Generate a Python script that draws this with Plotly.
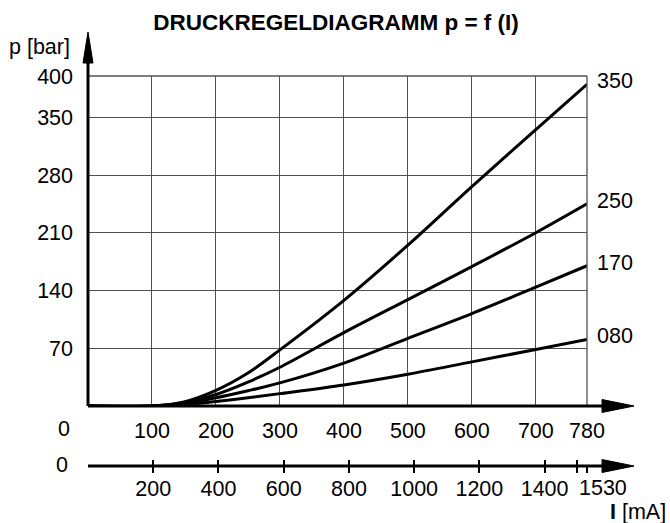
import plotly.graph_objects as go

# ---- data ----
current_ma = [0, 100, 150, 200, 250, 300, 400, 500, 600, 700, 780]
p_350 = [0, 0, 5, 19, 40, 68, 128, 195, 266, 335, 390]
p_250 = [0, 0, 4, 14, 29, 47, 89, 129, 169, 210, 245]
p_170 = [0, 0, 3, 10, 18.5, 28, 52, 82, 112, 144, 170]
p_080 = [0, 0, 1.5, 5.5, 10, 15, 25.5, 38.5, 53.5, 68.5, 80.7]
curve_labels = ["350", "250", "170", "080"]
series = [p_350, p_250, p_170, p_080]

y_ticks = [70, 140, 210, 280, 350, 400]
x_ticks = [100, 200, 300, 400, 500, 600, 700, 780]
x2_ticks = [200, 400, 600, 800, 1000, 1200, 1400, 1500, 1530]
x2_ticktext = ["200", "400", "600", "800", "1000", "1200", "1400", "", ""]

FONT = "Liberation Sans, Arial, sans-serif"
FS = 21.5
GRID = "#505050"

W, H = 670, 523
ML, MR, MT, MB = 88, 83, 76, 57
plot_h = H - MT - MB
pw = W - ML - MR
d = 60.0 / plot_h  # bottom of main y-domain (main x axis position)

fig = go.Figure()
for lab, vals in zip(curve_labels, series):
    fig.add_trace(go.Scatter(x=current_ma, y=vals, mode="lines", name=lab,
                             line=dict(color="black", width=3, shape="spline", smoothing=0.9),
                             showlegend=False, hoverinfo="skip"))
# anchor traces for the secondary scale
fig.add_trace(go.Scatter(x=[0], y=[None], xaxis="x2", yaxis="y", showlegend=False))
fig.add_trace(go.Scatter(x=[0], y=[None], xaxis="x3", yaxis="y", showlegend=False))

tf = dict(size=FS, family=FONT, color="black")
annotations = []
for lab, vals in zip(curve_labels, series):
    annotations.append(dict(x=current_ma[-1], y=vals[-1], xref="x", yref="y", text=lab,
                            showarrow=False, xanchor="left", yanchor="middle",
                            xshift=8, yshift=3, font=tf))
annotations += [
    dict(x=0, y=0, xref="x", yref="y", text="0", showarrow=False, xanchor="center",
         yanchor="middle", xshift=-24, yshift=-23, font=tf),
    dict(x=0, y=0, xref="x2", yref="paper", text="0", showarrow=False, xanchor="center",
         yanchor="middle", xshift=-26, yshift=1, font=tf),
    dict(x=1530, y=0, xref="x2", yref="paper", text="1530", showarrow=False, xanchor="center",
         yanchor="middle", xshift=16, yshift=-22, font=tf),
    dict(x=-16 / pw, y=(plot_h + MT - 47) / plot_h, xref="paper", yref="paper", text="p [bar]",
         showarrow=False, xanchor="right", yanchor="middle", font=tf),
    dict(x=(668 - ML) / pw, y=(plot_h + MT - 512) / plot_h, xref="paper", yref="paper",
         text="<b>I</b> [mA]", showarrow=False, xanchor="right", yanchor="middle", font=tf),
]

def px_x(p):
    return p / pw
def px_y(p):
    return p / plot_h

tip_x = 1 + px_x(47)
base_x = 1 + px_x(15)
ah = px_y(6.5)
shapes = [
    # top and right frame of the grid
    dict(type="line", xref="paper", yref="paper", x0=0, x1=1, y0=1, y1=1,
         line=dict(color=GRID, width=1.3)),
    dict(type="line", xref="paper", yref="paper", x0=1, x1=1, y0=d, y1=1,
         line=dict(color=GRID, width=1.3)),
]
for yy in (d, 0):
    shapes.append(dict(type="line", xref="paper", yref="paper", x0=0, x1=base_x + 0.005, y0=yy, y1=yy,
                       line=dict(color="black", width=3)))
    shapes.append(dict(type="path", xref="paper", yref="paper",
                       path=f"M {base_x},{yy-ah} L {tip_x},{yy} L {base_x},{yy+ah} Z",
                       fillcolor="black", line=dict(color="black", width=1)))
tip_y = 1 + px_y(44)
base_y = 1 + px_y(13)
aw = px_x(5)
shapes.append(dict(type="line", xref="paper", yref="paper", x0=0, x1=0, y0=d, y1=base_y + 0.005,
                   line=dict(color="black", width=3)))
shapes.append(dict(type="path", xref="paper", yref="paper",
                   path=f"M {-aw},{base_y} L 0,{tip_y} L {aw},{base_y} Z",
                   fillcolor="black", line=dict(color="black", width=1)))

fig.update_layout(
    width=W, height=H, margin=dict(l=ML, r=MR, t=MT, b=MB, pad=0, autoexpand=False),
    paper_bgcolor="white", plot_bgcolor="white",
    font=dict(family=FONT, size=FS, color="black"),
    title=dict(text="<b>DRUCKREGELDIAGRAMM p = f (I)</b>", x=(336 - ML) / pw, xref="paper",
               xanchor="center", y=1 - 22 / H, yref="container", yanchor="middle",
               font=dict(size=22.5, family=FONT, color="black")),
    xaxis=dict(range=[0, 780], domain=[0, 1], anchor="y", tickvals=x_ticks,
               showgrid=True, gridcolor=GRID, gridwidth=1.3, zeroline=False,
               showline=False, ticks="", ticklabelstandoff=9, automargin=False,
               tickfont=tf),
    yaxis=dict(range=[0, 400], domain=[d, 1], tickvals=y_ticks,
               showgrid=True, gridcolor=GRID, gridwidth=1.3, zeroline=False,
               showline=False, ticks="", ticklabelstandoff=14, automargin=False,
               tickfont=tf),
    xaxis2=dict(range=[0, 1530], overlaying="x", anchor="free", position=0, side="bottom",
                tickvals=x2_ticks, ticktext=x2_ticktext, ticks="outside", ticklen=6,
                tickwidth=2, tickcolor="black", showgrid=False, zeroline=False,
                showline=False, ticklabelstandoff=-3, automargin=False, tickfont=tf),
    xaxis3=dict(range=[0, 1530], overlaying="x", anchor="free", position=0, side="bottom",
                tickvals=x2_ticks, ticks="inside", ticklen=6, tickwidth=2, tickcolor="black",
                showticklabels=False, showgrid=False, zeroline=False, showline=False,
                automargin=False),
    shapes=shapes, annotations=annotations,
)

fig.write_html("out.html", config={"displayModeBar": False},
               post_script="document.body.style.margin='0';document.body.style.overflow='hidden';")
